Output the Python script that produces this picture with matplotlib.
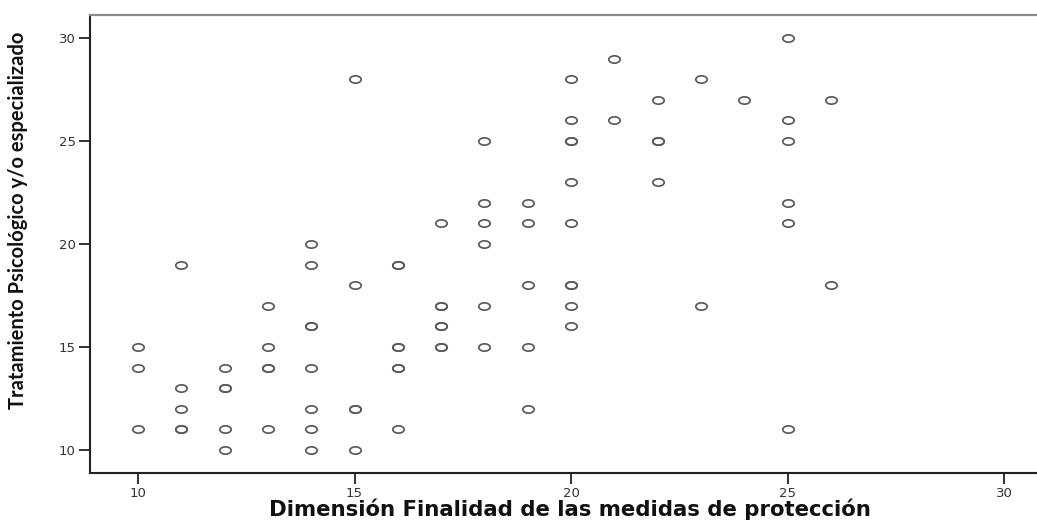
import numpy as np
import matplotlib
matplotlib.use("Agg")
import matplotlib.pyplot as plt
from matplotlib.path import Path

# Data (duplicated pairs appear as darker circles)
x_vals = [10, 10, 10,
          11, 11, 11, 11, 11,
          12, 12, 12, 12, 12,
          13, 13, 13, 13, 13,
          14, 14, 14, 14, 14, 14, 14, 14,
          15, 15, 15, 15, 15,
          16, 16, 16, 16, 16, 16, 16,
          17, 17, 17, 17, 17, 17, 17,
          18, 18, 18, 18, 18, 18,
          19, 19, 19, 19, 19,
          20, 20, 20, 20, 20, 20, 20, 20, 20, 20,
          21, 21,
          22, 22, 22, 22,
          23, 23,
          24,
          25, 25, 25, 25, 25, 25,
          26, 26]
y_vals = [15, 14, 11,
          19, 13, 12, 11, 11,
          14, 13, 13, 11, 10,
          17, 15, 14, 14, 11,
          20, 19, 16, 16, 14, 12, 11, 10,
          28, 18, 12, 12, 10,
          19, 19, 15, 15, 14, 14, 11,
          21, 17, 17, 16, 16, 15, 15,
          25, 22, 21, 20, 17, 15,
          22, 21, 18, 15, 12,
          28, 26, 25, 25, 23, 21, 18, 18, 17, 16,
          29, 26,
          27, 25, 25, 23,
          28, 17,
          27,
          30, 26, 25, 22, 21, 11,
          27, 18]

x_ticks = [10, 15, 20, 25, 30]
y_ticks = [10, 15, 20, 25, 30]
x_label = "Dimensión Finalidad de las medidas de protección"
y_label = "Tratamiento Psicológico y/o especializado"

W, H = 1037, 520
fig = plt.figure(figsize=(W / 100, H / 100), dpi=100)
ax = fig.add_axes([89.5 / W, (H - 473) / H, (1045 - 89.5) / W, (473 - 15) / H])

circ = Path.unit_circle()
ell = Path(circ.vertices * np.array([1.0, 0.64]), circ.codes)

ax.plot(x_vals, y_vals, linestyle="none", marker=ell, markersize=8.2,
        markerfacecolor="none", markeredgecolor="#5a5a5a", markeredgewidth=1.25)

ax.set_xlim(8.88, 30.76 + (1045 - 1037) / 43.3)
ax.set_ylim(8.88, 31.12)
ax.set_xticks(x_ticks)
ax.set_yticks(y_ticks)
ax.tick_params(axis="both", direction="out", length=8, width=1.3, color="#222222",
               labelsize=9.5, labelcolor="#333333", pad=2)

for s in ["left", "bottom"]:
    ax.spines[s].set_color("#222222")
    ax.spines[s].set_linewidth(1.5)
ax.spines["top"].set_color("#8a8a8a")
ax.spines["top"].set_linewidth(1.6)
ax.spines["right"].set_visible(False)

fig.text(570 / W, 1 - 509 / H, x_label, ha="center", va="center",
         fontsize=15.3, fontweight="bold", color="#111111", family="DejaVu Sans")
fig.text(18 / W, 1 - 220 / H, y_label, ha="center", va="center", rotation=90,
         fontsize=14.5, fontweight="bold", color="#111111", family=["Lato", "DejaVu Sans"])

fig.savefig("out.png", dpi=100)
